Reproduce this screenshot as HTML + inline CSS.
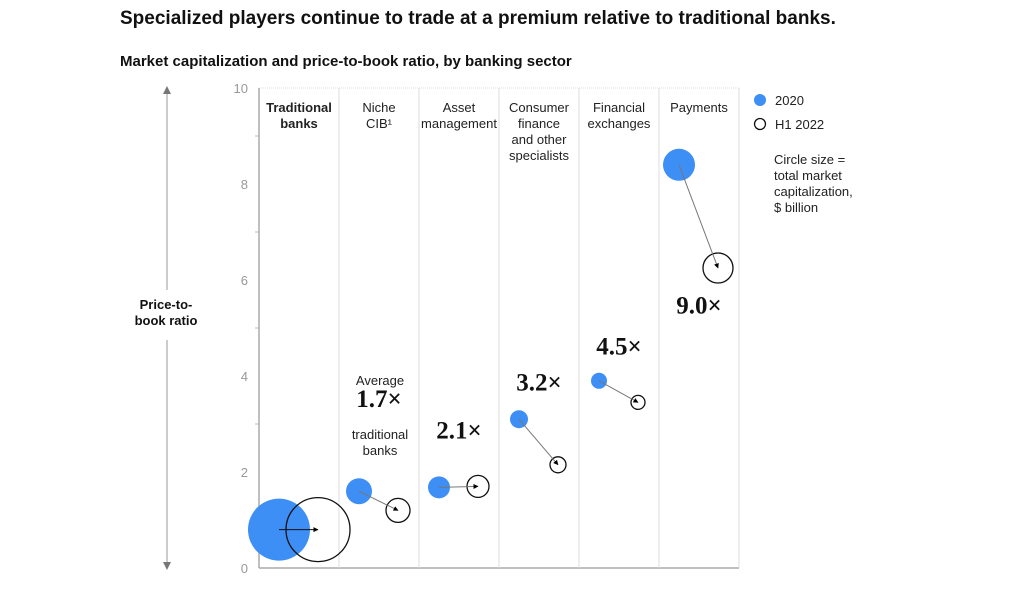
<!DOCTYPE html>
<html><head><meta charset="utf-8"><style>
body{margin:0;background:#fff;font-family:"Liberation Sans",sans-serif}
</style></head><body>
<svg width="1024" height="588" viewBox="0 0 1024 588" xmlns="http://www.w3.org/2000/svg" id="svg" font-family="Liberation Sans, sans-serif">
<defs><marker id="ah" viewBox="0 0 10 10" refX="9" refY="5" markerWidth="5" markerHeight="5" orient="auto"><path d="M0,0L10,5L0,10z" fill="#000"/></marker></defs>
<text x="120" y="24" font-size="19" font-weight="bold" fill="#111">Specialized players continue to trade at a premium relative to traditional banks.</text>
<text x="120" y="66" font-size="15" font-weight="bold" fill="#111">Market capitalization and price-to-book ratio, by banking sector</text>
<g>
<line x1="167" y1="92" x2="167" y2="290" stroke="#999"/><path d="M163,94L167,86L171,94z" fill="#777"/>
<line x1="167" y1="340" x2="167" y2="564" stroke="#999"/><path d="M163,562L167,570L171,562z" fill="#777"/>
<text x="166" y="309" font-size="13" font-weight="bold" text-anchor="middle" fill="#111">Price-to-</text>
<text x="166" y="325" font-size="13" font-weight="bold" text-anchor="middle" fill="#111">book ratio</text>
</g>
<g id="axis"></g><g id="cols"></g><g id="marks"></g>
<g font-size="13" fill="#222">
<circle cx="760" cy="100" r="6" fill="#3d8ef5"/>
<text x="775" y="105">2020</text>
<circle cx="760" cy="124" r="5.5" fill="none" stroke="#111" stroke-width="1.3"/>
<text x="775" y="129">H1 2022</text>
<text x="774" y="164"><tspan x="774">Circle size =</tspan><tspan x="774" dy="16">total market</tspan><tspan x="774" dy="16">capitalization,</tspan><tspan x="774" dy="16">$ billion</tspan></text>
</g>
<g font-size="13" fill="#222" text-anchor="middle">
<text x="380" y="385">Average</text>
<text x="380" y="439">traditional</text>
<text x="380" y="455">banks</text>
</g>
</svg>
<script>
const categories=[["Traditional","banks"],["Niche","CIB¹"],["Asset","management"],["Consumer","finance","and other","specialists"],["Financial","exchanges"],["Payments"]];
const pb2020=[0.8,1.6,1.68,3.1,3.9,8.4];
const pb2022=[0.8,1.2,1.7,2.15,3.45,6.25];
const r2020=[31,13,11,9,8,16];
const r2022=[32,12,11,8,7,15];
const multiples=[null,"1.7×","2.1×","3.2×","4.5×","9.0×"];
const multipleValues=[null,3.35,2.7,3.7,4.45,5.3];
const yTicks=[0,2,4,6,8,10];
const NS="http://www.w3.org/2000/svg";
const x0=259,colW=80,yTop=88,yBot=568,yMax=10;
const y=v=>yBot-(v/yMax)*(yBot-yTop);
const colX=i=>x0+colW*i;
function mk(t,a,p){const e=document.createElementNS(NS,t);for(const k in a)e.setAttribute(k,a[k]);p.appendChild(e);return e;}
const ax=document.getElementById('axis'),cols=document.getElementById('cols'),marks=document.getElementById('marks');
yTicks.forEach(v=>{const t=mk('text',{x:x0-11,y:y(v)+5,'font-size':13,'text-anchor':'end',fill:'#999'},ax);t.textContent=v;


if(v<10){const m=mk('line',{x1:x0-4,x2:x0,y1:y(v+1),y2:y(v+1),stroke:'#bbb'},ax);}});
mk('line',{x1:x0,x2:x0+colW*6,y1:y(10),y2:y(10),stroke:'#ddd','stroke-dasharray':'1 1'},ax);
const xa=mk('line',{x1:x0,x2:x0+colW*6,y1:yBot,y2:yBot,stroke:'#aaa','stroke-width':1.5},ax);


mk('line',{x1:x0,x2:x0,y1:yTop,y2:yBot,stroke:'#aaa','stroke-width':1.5},ax);
categories.forEach((c,i)=>{
 if(i>0){mk('line',{x1:colX(i),x2:colX(i),y1:yTop,y2:yBot,stroke:'#ddd'},cols);}
 const t=mk('text',{x:colX(i)+colW/2,y:112,'font-size':13,'text-anchor':'middle',fill:'#222','font-weight':i==0?'bold':'normal'},cols);
 
 
 c.forEach((l,j)=>{const s=mk('tspan',{x:colX(i)+colW/2,dy:j?16:0},t);s.textContent=l;});
 const cx1=colX(i)+20,cx2=colX(i)+59;
 const b1=mk('circle',{cx:cx1,cy:y(pb2020[i]),r:r2020[i],fill:'#3d8ef5'},marks);
 
 
 const b2=mk('circle',{cx:cx2,cy:y(pb2022[i]),r:r2022[i],fill:'none',stroke:'#111','stroke-width':1.3},marks);
 
 
 const a=mk('line',{x1:cx1,y1:y(pb2020[i]),x2:cx2,y2:y(pb2022[i]),stroke:i==0?'#111':'#777','stroke-width':1,'marker-end':'url(#ah)'},marks);
 
 
 if(multiples[i]){const m=mk('text',{x:colX(i)+colW/2,y:y(multipleValues[i]),'font-size':25,'font-weight':'bold','font-family':'Liberation Serif, serif','text-anchor':'middle',fill:'#111'},marks);m.textContent=multiples[i];
 
 }
});
mk('line',{x1:colX(6),x2:colX(6),y1:yTop,y2:yBot,stroke:'#ddd'},cols);
</script>
</body></html>
